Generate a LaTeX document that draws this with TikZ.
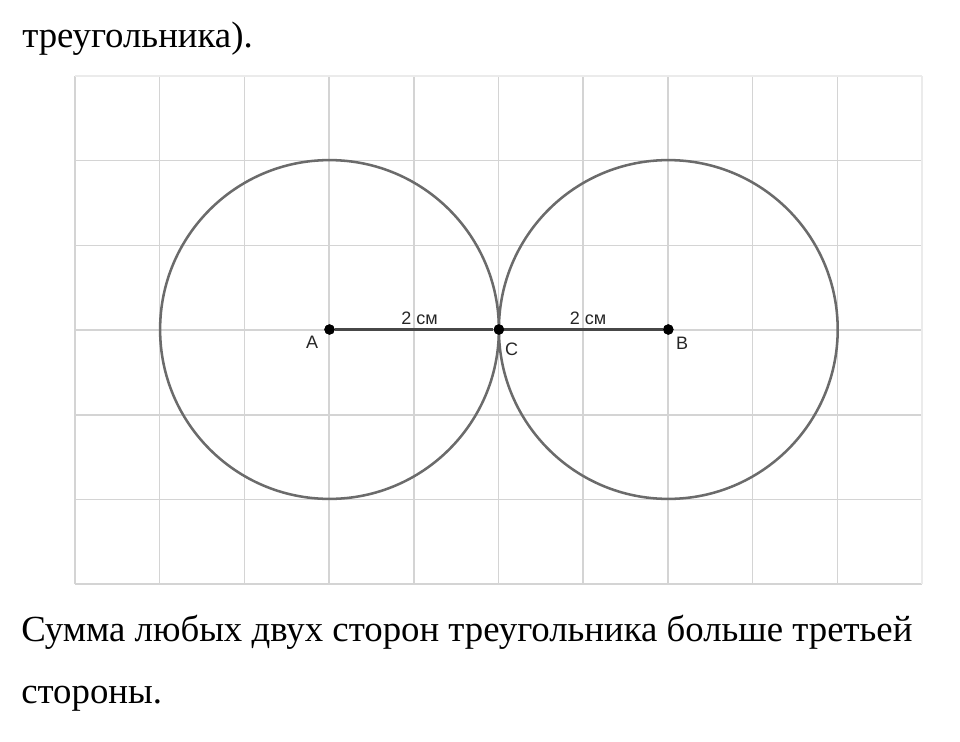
\documentclass[tikz,border=0pt]{standalone}
\usepackage{fontspec}
\setmainfont{Liberation Serif}
\newfontfamily\labfont{Liberation Sans}
\begin{document}
\begin{tikzpicture}[x=0.75pt,y=-0.75pt,
  gridline/.style={draw=black!17,line width=1.1pt},
  edgeline/.style={draw=black!8,line width=1.1pt},
  circ/.style={draw=black!58,line width=1.9pt},
  seg/.style={draw=black!72,line width=2.1pt},
  pt/.style={circle,fill=black,inner sep=0pt,minimum size=7.8pt},
  lab/.style={inner sep=0pt,font=\labfont\fontsize{13.5}{15}\selectfont,text=black!85},
  body/.style={inner sep=0pt,font=\fontsize{27.6}{32}\selectfont,anchor=base west}]
\useasboundingbox (0,0) rectangle (960,742);
% grid
\foreach \i in {0,...,9} \draw[gridline] ({75+84.7*\i},76) -- ({75+84.7*\i},584);
\foreach \j in {1,...,6} \draw[gridline] (75,{76+84.7*\j}) -- (922,{76+84.7*\j});
\draw[edgeline] (75,76) -- (922,76);
\draw[edgeline] (922,76) -- (922,584);
% circles
\draw[circ] (329.5,329.5) circle (169.4);
\draw[circ] (668.3,329.5) circle (169.4);
% points
\node[pt] (A) at (329.5,329.5) {};
\node[pt] (C) at (498.9,329.5) {};
\node[pt] (B) at (668.3,329.5) {};
\draw[seg] (A) -- (C);
\draw[seg] (C) -- (B);
\node[pt] at (A) {};
\node[pt] at (C) {};
\node[pt] at (B) {};
% labels
\node[lab] (lA) at (312,342) {A};
\node[lab] (lB) at (682,343) {B};
\node[lab] (lC) at (511.5,349) {C};
\node[lab] (l1) at (419.5,318) {2 см};
\node[lab] (l2) at (588,318) {2 см};
% text
\node[body] (t0) at (22,48) {треугольника).};
\node[body] (t1) at (21,641) {Сумма любых двух сторон треугольника больше третьей};
\node[body] (t2) at (21,703) {стороны.};
\end{tikzpicture}
\end{document}
